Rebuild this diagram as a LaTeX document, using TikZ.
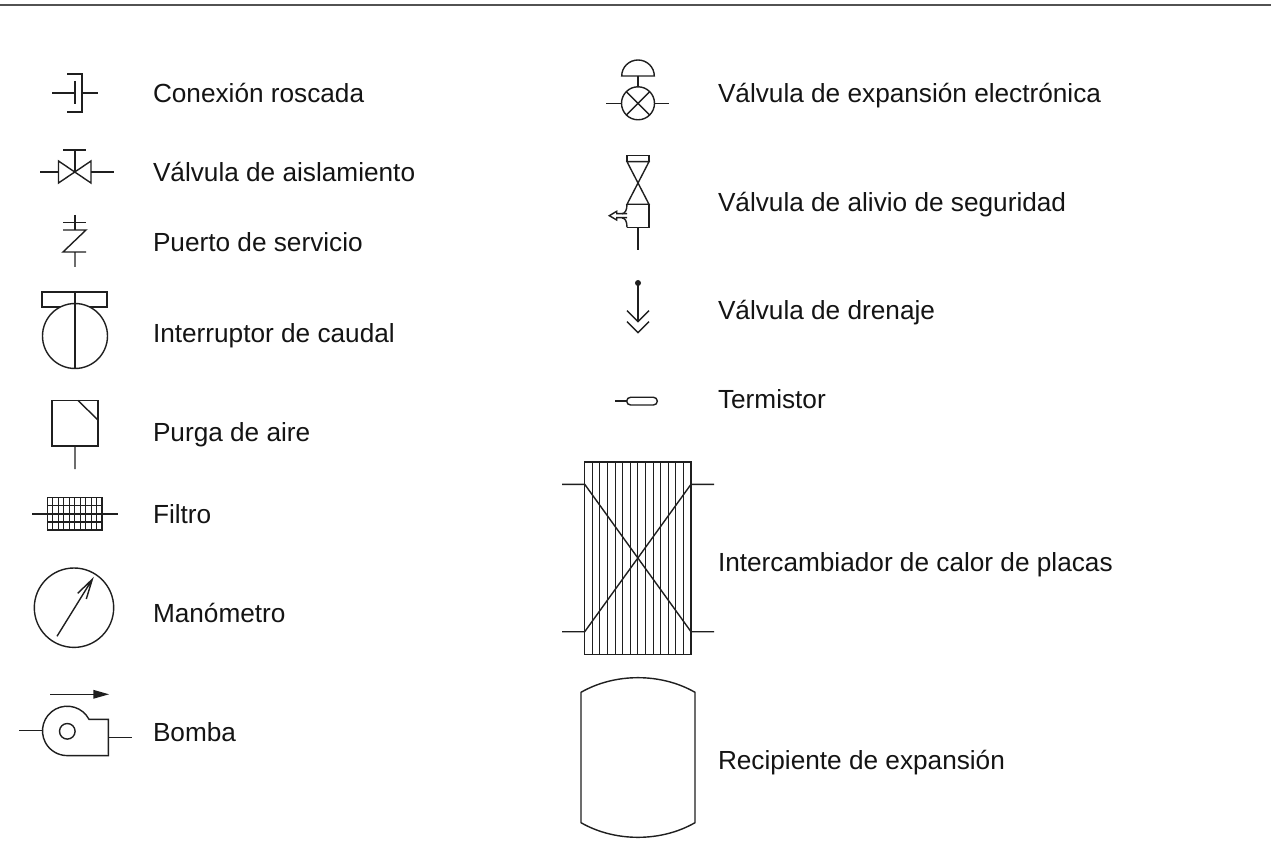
\documentclass[tikz,border=0pt]{standalone}
\usepackage{fontspec}
\setmainfont{Liberation Sans}
\tikzset{
  sym/.style={draw=black!88,line width=1.05pt,line join=miter,line cap=butt},
  lab/.style={anchor=base west,inner sep=0pt,outer sep=0pt,text=black!92,font=\fontsize{19.65pt}{23pt}\selectfont},
  rule/.style={draw=black!68,line width=1.5pt}
}
\begin{document}
\begin{tikzpicture}[x=0.75pt,y=-0.75pt]
\useasboundingbox (0,0) rectangle (1271,855);
\fill[white] (0,0) rectangle (1271,855);
\draw[rule] (0,5) -- (1271,5);

% Conexion roscada
\draw[sym] (52,93) -- (75,93) (75,81) -- (75,104);
\draw[sym] (67,74) -- (82,74) -- (82,112) -- (67,112) (82,93) -- (98,93);
\node[lab] (t1) at (153,103) {Conexión roscada};
% Valvula de aislamiento
\draw[sym] (63,150) -- (86,150) (75,150) -- (75,172);
\draw[sym] (58.5,161) -- (91,183) -- (91,161) -- (58.5,183) -- cycle;
\draw[sym] (40,172) -- (58.5,172) (91,172) -- (114,172);
\node[lab] (t2) at (153,182) {Válvula de aislamiento};
% Puerto de servicio
\draw[sym] (75,215) -- (75,230) (63,222.5) -- (86,222.5);
\draw[sym] (63,230) -- (86,230) -- (63,252) -- (86,252) (75,252) -- (75,267);
\node[lab] (t3) at (153,252) {Puerto de servicio};
% Interruptor de caudal
\draw[sym] (42,292) rectangle (107,307);
\draw[sym,fill=white] (75,336) circle[radius=32.5];
\draw[sym] (75,292) -- (75,369);
\node[lab] (t4) at (153,343) {Interruptor de caudal};
% Purga de aire
\draw[sym] (52,400.5) rectangle (98,446);
\draw[sym] (78,400.5) -- (98,420) (75,446) -- (75,469);
\node[lab] (t5) at (153,441) {Purga de aire};
% Filtro
\foreach \i in {1,...,9} \draw[sym,line width=0.8pt] ({47.5+5.45*\i},497.5) -- ({47.5+5.45*\i},530);
\draw[sym,line width=0.8pt] (47.5,505.5) -- (102,505.5) (47.5,522) -- (102,522);
\draw[sym] (47.5,497.5) rectangle (102,530);
\draw[sym] (32,514) -- (117.5,514);
\node[lab] (t6) at (153,523) {Filtro};
% Manometro
\draw[sym] (74,607.7) circle[radius=39.7];
\draw[sym] (57,636.3) -- (92.3,579.3) (77.7,593.3) -- (92.3,579.3) -- (86.3,599);
\node[lab] (t7) at (153,622) {Manómetro};
% Bomba
\draw[sym] (50,694.3) -- (95,694.3);
\fill[black!88] (109,694.3) -- (93.3,689.8) -- (93.3,698.8) -- cycle;
\draw[sym] (19,730.7) -- (42.3,730.7) (108.3,737.3) -- (131.7,737.3);
\draw[sym] (89,719.3) arc[start angle=-28,end angle=-270,radius=24.7] -- (108.3,755.7) -- (108.3,719.3) -- cycle;
\draw[sym] (67.3,731.3) circle[radius=7.8];
\node[lab] (t8) at (153,741) {Bomba};

% Valvula de expansion electronica
\draw[sym] (621.7,76) arc[start angle=180,end angle=360,x radius=16.3,y radius=16] -- cycle;
\draw[sym] (638,76) -- (638,86.8);
\draw[sym] (638,103.3) circle[radius=16.5];
\draw[sym] ({638-11.67},{103.3-11.67}) -- ({638+11.67},{103.3+11.67}) ({638-11.67},{103.3+11.67}) -- ({638+11.67},{103.3-11.67});
\draw[sym] (606,103.3) -- (621.5,103.3) (654.5,103.3) -- (669.3,103.3);
\node[lab] (t9) at (718,103) {Válvula de expansión electrónica};
% Valvula de alivio
\draw[sym] (627,155.7) rectangle (649,161.7);
\draw[sym] (627,161.7) -- (649,204.3) -- (627,204.3) -- (649,161.7) -- cycle;
\draw[sym] (627,204.3) .. controls (627,210) and (625,213.7) .. (622,213.7);
\draw[sym] (627,227.3) .. controls (627,221) and (625,218) .. (622,218);
\draw[sym] (649,204.3) -- (649,227.3) -- (627,227.3) (638,227.3) -- (638,250);
\draw[sym] (627,213.7) -- (616.7,213.7) -- (616.7,211.3) -- (609.3,215.7) -- (616.7,220) -- (616.7,217.7) -- (627,217.7);
\node[lab] (t10) at (718,212) {Válvula de alivio de seguridad};
% Valvula de drenaje
\fill[black!88] (638,283) circle[radius=3];
\draw[sym] (638,283) -- (638,321.7);
\draw[sym] (627,310.7) -- (638,321.7) -- (649,310.7) (627,321.7) -- (638,332.7) -- (649,321.7);
\node[lab] (t11) at (718,320) {Válvula de drenaje};
% Termistor
\draw[sym] (615,401) -- (626.7,401);
\draw[sym,rounded corners=3.8*0.75pt] (626.7,397.3) rectangle (657.3,405);
\node[lab] (t12) at (718,409) {Termistor};
% Intercambiador
\foreach \i in {1,...,13} \draw[sym,line width=0.8pt] ({584.7+7.595*\i},462) -- ({584.7+7.595*\i},654.3);
\draw[sym] (584.7,462) rectangle (691,654.3);
\draw[sym] (562,484.3) -- (584.7,484.3) -- (691,631.7) -- (714,631.7);
\draw[sym] (562,631.7) -- (584.7,631.7) -- (691,484.3) -- (714,484.3);
\node[lab] (t13) at (718,571) {Intercambiador de calor de placas};
% Recipiente
\draw[sym] (581,692.3) .. controls (615,672.8) and (661,672.8) .. (695,692.3) -- (695,822.7) .. controls (661,842.2) and (615,842.2) .. (581,822.7) -- cycle;
\node[lab] (t14) at (718,769) {Recipiente de expansión};
\end{tikzpicture}
\end{document}
